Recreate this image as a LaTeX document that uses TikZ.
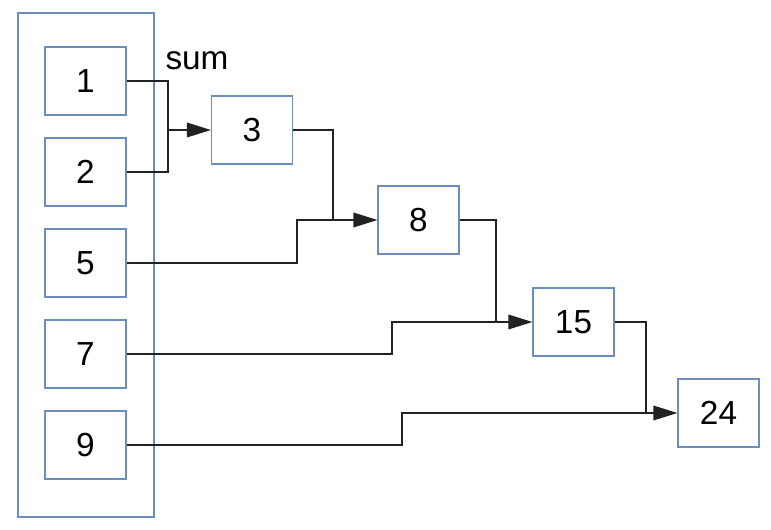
\documentclass[tikz,border=0pt]{standalone}
\usepackage{fontspec}
\setmainfont{Liberation Sans}
\usetikzlibrary{arrows.meta}

\definecolor{boxline}{HTML}{6C8EBF}
\definecolor{wireline}{HTML}{222222}

\tikzset{
    cell/.style={draw=boxline,line width=0.9pt,minimum width=60.75pt,minimum height=51pt,
        inner sep=0pt,font=\fontsize{25}{30}\selectfont},
    wire/.style={draw=wireline,line width=1pt},
    feed/.style={wire,-{Triangle[length=18pt,width=11pt]}}
}

\begin{document}
\begin{tikzpicture}[x=0.75pt,y=-0.75pt]
    \useasboundingbox (0,0) rectangle (771,530);

    % The list of numbers
    \node[draw=boxline,line width=0.9pt,minimum width=102pt,minimum height=378pt] (list) at (86,265) {};
    \node[cell] (n1) at (85.5,81) {1};
    \node[cell] (n2) at (85.5,172) {2};
    \node[cell] (n5) at (85.5,263) {5};
    \node[cell] (n7) at (85.5,354) {7};
    \node[cell] (n9) at (85.5,445) {9};

    % The running sums
    \node[cell] (s3) at (252,130) {3};
    \node[cell] (s8) at (418.5,220) {8};
    \node[cell] (s15) at (573.5,322) {15};
    \node[cell] (s24) at (718.5,413) {24};

    \node[font=\fontsize{25}{30}\selectfont] (sum) at (197,61) {sum};

    % Junction points
    \coordinate (j3) at (168,130);
    \coordinate (j8) at (333,220);
    \coordinate (b8) at (297,220);
    \coordinate (j15) at (496,322);
    \coordinate (b15) at (392,322);
    \coordinate (j24) at (646,413);
    \coordinate (b24) at (402,413);

    % Draw the connectors
    \draw[wire] (n1.east) -| (j3);
    \draw[wire] (n2.east) -| (j3);
    \draw[feed] (j3) -- (s3.west);

    \draw[wire] (s3.east) -| (j8);
    \draw[feed] (n5.east) -| (b8) -- (s8.west);

    \draw[wire] (s8.east) -| (j15);
    \draw[feed] (n7.east) -| (b15) -- (s15.west);

    \draw[wire] (s15.east) -| (j24);
    \draw[feed] (n9.east) -| (b24) -- (s24.west);
\end{tikzpicture}
\end{document}
